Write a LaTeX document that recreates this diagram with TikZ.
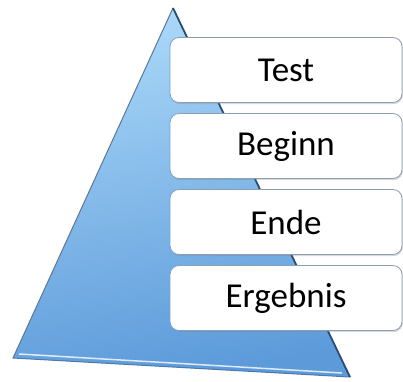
\documentclass[tikz,border=0pt]{standalone}
\usepackage{fontspec}
\setmainfont{Carlito}
\usetikzlibrary{shadows}

\definecolor{pyrtop}{RGB}{170,216,248}
\definecolor{pyrbot}{RGB}{92,154,218}
\definecolor{pyredge}{RGB}{52,74,98}
\definecolor{boxline}{RGB}{138,158,180}

\begin{document}
\begin{tikzpicture}[x=1pt, y=-1pt, node distance=76pt,
                    stage box/.style={draw=boxline, line width=0.8pt, fill=white, rounded corners=9pt,
                      minimum width=232pt, minimum height=65pt, font=\fontsize{35}{39}\selectfont,
                      drop shadow={opacity=0.3, shadow xshift=1pt, shadow yshift=-1.5pt}}]

  \useasboundingbox (0,0) rectangle (403,381);

  % pyramid
  \coordinate (apex) at (173,8);
  \coordinate (bl) at (13,358);
  \coordinate (br) at (350,377);
  \shade[top color=pyrtop, bottom color=pyrbot, shading angle=10] (apex) -- (bl) -- (br) -- cycle;
  \draw[pyrbot!80!black, line width=1pt] (apex) -- (bl) -- (br);
  \draw[white, line width=1.5pt, opacity=0.8] ([shift={(6,-4)}]bl) -- ([shift={(-8,-4)}]br);
  \draw[pyredge, line width=1.8pt] (apex) -- (br);

  \node[stage box] (test) at (286,70) {Test};
  \node[stage box] (beginn) [below of=test] {Beginn};
  \node[stage box] (ende) [below of=beginn] {Ende};
  \node[stage box] (ergebnis) [below of=ende] {Ergebnis};

\end{tikzpicture}
\end{document}
